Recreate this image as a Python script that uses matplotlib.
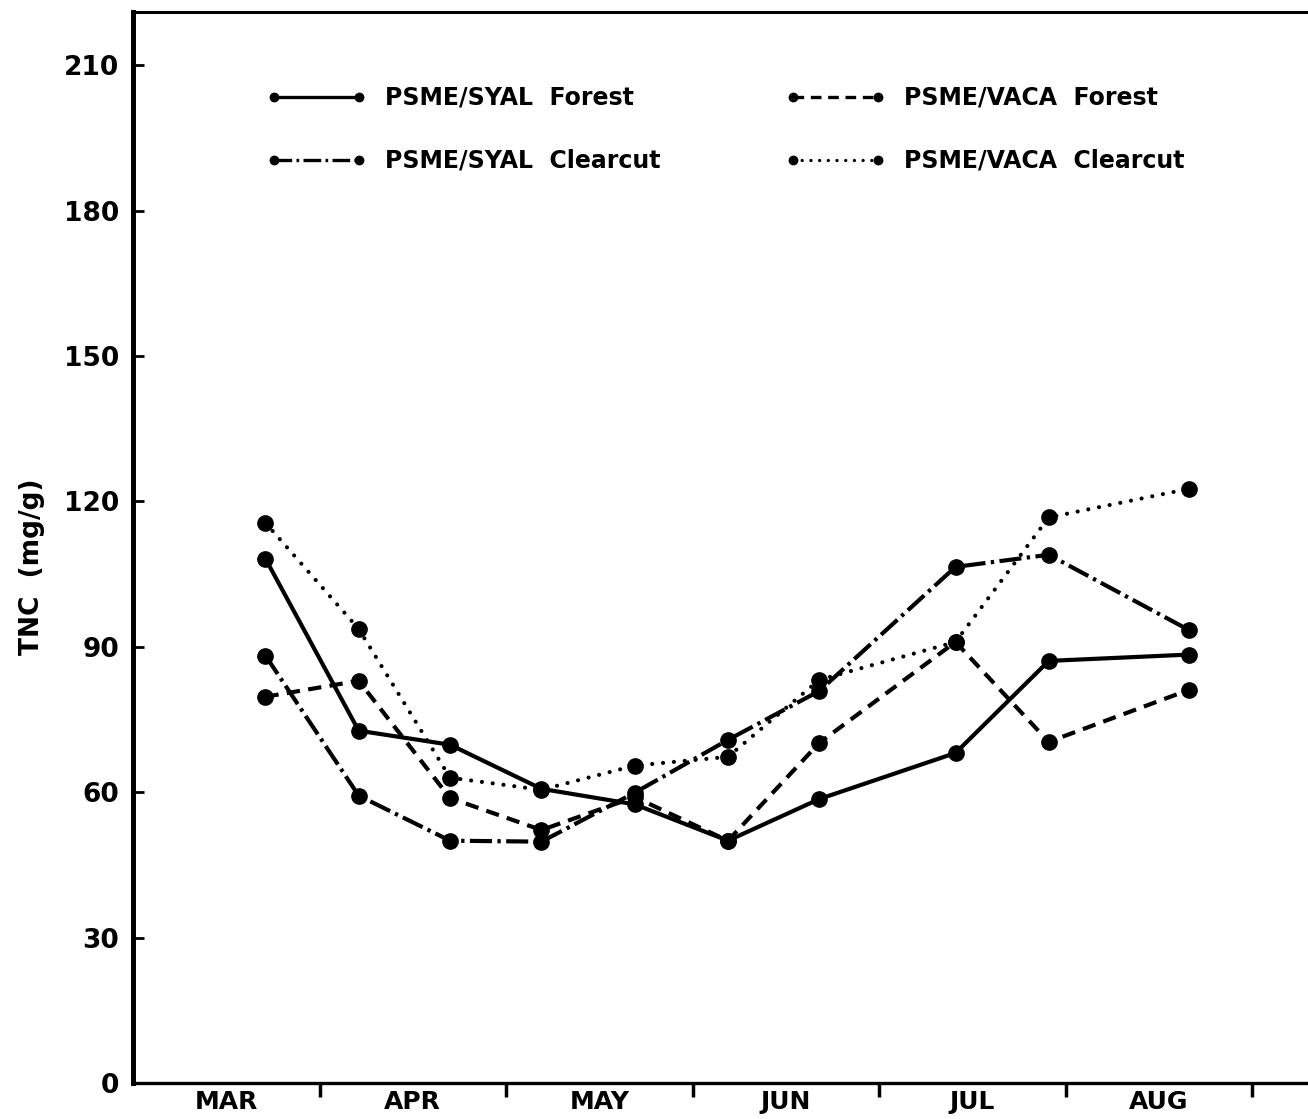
import matplotlib
matplotlib.use("Agg")
import matplotlib.pyplot as plt

# sampling dates, expressed as months after 1 March
sample_month = [0.71, 1.21, 1.70, 2.19, 2.69, 3.19, 3.68, 4.41, 4.91, 5.66]

# TNC (mg/g) per stand
syal_forest = [108.2, 72.7, 69.8, 60.7, 57.5, 50.0, 58.6, 68.1, 87.1, 88.4]
vaca_forest = [79.7, 83.0, 58.8, 52.2, 59.0, 50.0, 70.2, 91.0, 70.4, 81.1]
syal_clearcut = [88.2, 59.3, 50.0, 49.8, 59.9, 70.8, 80.9, 106.5, 109.0, 93.5]
vaca_clearcut = [115.6, 93.7, 63.0, 60.5, 65.5, 67.3, 83.2, 91.0, 116.7, 122.6]

months = ["MAR", "APR", "MAY", "JUN", "JUL", "AUG"]
y_ticks = [0, 30, 60, 90, 120, 150, 180, 210]

#----------------------------------------------------------------------------------------------------------#

fig = plt.figure(figsize=(13.08, 11.19), dpi=100)
ax = fig.add_axes([133 / 1308, 1 - 1083 / 1119, 1 - 133 / 1308, (1083 - 12) / 1119])

lw = 3
ms = 11
series = [
    (syal_forest, "-", "PSME/SYAL  Forest"),
    (syal_clearcut, (0, (5.3, 1.3, 0.8, 1.3)), "PSME/SYAL  Clearcut"),
    (vaca_forest, (0, (3.2, 2.0)), "PSME/VACA  Forest"),
    (vaca_clearcut, (0, (0.01, 2.6)), "PSME/VACA  Clearcut"),
]
for vals, ls, lab in series:
    cap = "round" if lab.endswith("VACA  Clearcut") else "butt"
    ax.plot(sample_month, vals, color="black", linestyle=ls, lw=lw, marker="o",
            markersize=ms, dash_capstyle=cap, label=lab)

ax.set_xlim(0, 6.3)
ax.set_ylim(0, 221)

# month boundaries as ticks, names centred in between
ax.set_xticks(range(1, len(months) + 1))
ax.set_xticklabels([])
ax.set_xticks([i + 0.5 for i in range(len(months))], minor=True)
ax.set_xticklabels(months, minor=True, fontsize=18, fontweight="bold")
ax.tick_params(axis="x", which="major", direction="out", length=10, width=2.5)
ax.tick_params(axis="x", which="minor", length=0, pad=5)

ax.set_yticks(y_ticks)
ax.set_yticklabels([str(v) for v in y_ticks], fontsize=19, fontweight="bold")
ax.tick_params(axis="y", direction="in", length=8, width=2, pad=10)

ax.set_ylabel("TNC  (mg/g)", fontsize=19, fontweight="bold")
ax.yaxis.set_label_coords(-0.075, 0.482)

ax.spines["right"].set_visible(False)
ax.spines["left"].set_linewidth(3.6)
ax.spines["top"].set_linewidth(2.2)
ax.spines["bottom"].set_linewidth(2.4)

leg = ax.legend(loc="upper left", bbox_to_anchor=(0.114, 0.931), ncol=2, frameon=False,
                numpoints=2, markerscale=0.55, handlelength=4.2, handletextpad=0.8,
                labelspacing=1.65, columnspacing=5.3, borderaxespad=0, borderpad=0,
                prop={"size": 17, "weight": "bold"})
for h in leg.legend_handles:
    h.set_linewidth(2.4)

fig.savefig("out.png", dpi=100)
